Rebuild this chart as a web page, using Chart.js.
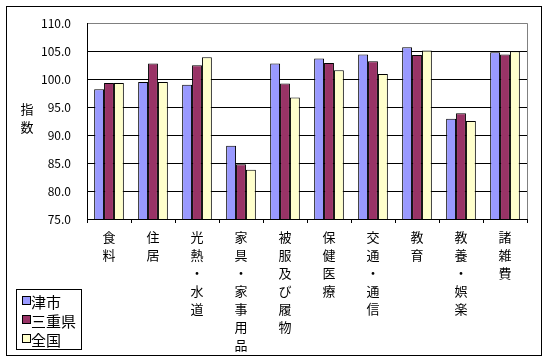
<!DOCTYPE html>
<html>
<head>
<meta charset="utf-8">
<script src="https://cdn.jsdelivr.net/npm/chart.js@4/dist/chart.umd.min.js"></script>
<style>
  html, body { margin: 0; padding: 0; background: #fff; }
  #wrap { width: 548px; height: 363px; position: relative; }
</style>
</head>
<body>
<div id="wrap"><canvas id="chart"></canvas></div>
<script>
// 費目別の指数
const categories = [
  ['食', '料'],
  ['住', '居'],
  ['光', '熱', '・', '水', '道'],
  ['家', '具', '・', '家', '事', '用', '品'],
  ['被', '服', '及', 'び', '履', '物'],
  ['保', '健', '医', '療'],
  ['交', '通', '・', '通', '信'],
  ['教', '育'],
  ['教', '養', '・', '娯', '楽'],
  ['諸', '雑', '費'],
];
const seriesNames = ['津市', '三重県', '全国'];
const tsuValues     = [98.2, 99.5, 99.0, 88.1, 102.8, 103.7, 104.4, 105.7, 92.9, 104.8];
const mieValues     = [99.3, 102.8, 102.5, 84.8, 99.2, 102.9, 103.2, 104.3, 93.9, 104.4];
const zenkokuValues = [99.3, 99.5, 103.9, 83.8, 96.7, 101.6, 100.9, 105.1, 92.5, 105.0];
const yTitle = ['指', '数'];

const FONT = "'Noto Sans CJK JP', 'Noto Sans', sans-serif";
const COLORS = ['#9999ff', '#993366', '#ffffcc'];

// outer frame, right plot edge, y title, legend box
const decorations = {
  id: 'decorations',
  beforeDraw(chart) {
    const c = chart.ctx;
    c.save();
    c.fillStyle = '#fff';
    c.fillRect(0, 0, chart.width, chart.height);
    c.strokeStyle = '#000'; c.lineWidth = 1;
    c.strokeRect(6.5, 6.5, 535, 349);
    c.restore();
  },
  afterDraw(chart) {
    const c = chart.ctx, a = chart.chartArea;
    c.save();
    c.strokeStyle = '#808080'; c.lineWidth = 1;
    c.beginPath(); c.moveTo(Math.round(a.right) + 0.5, a.top); c.lineTo(Math.round(a.right) + 0.5, a.bottom); c.stroke();

    // y title
    c.fillStyle = '#000'; c.font = `13px ${FONT}`;
    c.textAlign = 'center'; c.textBaseline = 'middle';
    yTitle.forEach((ch, i) => c.fillText(ch, 27, 109 + i * 18));

    // legend
    c.fillStyle = '#fff'; c.fillRect(16.5, 289.5, 65, 60);
    c.strokeStyle = '#000'; c.strokeRect(16.5, 289.5, 65, 60);
    c.font = `15px ${FONT}`; c.textAlign = 'left';
    chart.data.datasets.forEach((ds, i) => {
      const y = 301 + i * 19;
      c.fillStyle = ds.backgroundColor;
      c.fillRect(22.5, y - 4.5, 8, 8);
      c.strokeRect(22.5, y - 4.5, 8, 8);
      c.fillStyle = '#000';
      c.fillText(ds.label, 31, y + 1);
    });
    c.restore();
  }
};

new Chart(document.getElementById('chart'), {
  type: 'bar',
  data: {
    labels: categories,
    datasets: [
      { label: seriesNames[0], data: tsuValues, backgroundColor: COLORS[0] },
      { label: seriesNames[1], data: mieValues, backgroundColor: COLORS[1] },
      { label: seriesNames[2], data: zenkokuValues, backgroundColor: COLORS[2] },
    ].map(d => ({ ...d, borderColor: '#000', borderWidth: 1, barPercentage: 1.0, categoryPercentage: 0.675 }))
  },
  options: {
    responsive: true, maintainAspectRatio: false,
    animation: false,
    layout: { padding: { top: 19, right: 21, left: 0, bottom: 0 } },
    plugins: { legend: { display: false }, tooltip: { enabled: false } },
    scales: {
      x: {
        offset: true,
        grid: { offset: true, drawOnChartArea: false, drawTicks: true, tickLength: 4, color: '#000' },
        border: { color: '#000' },
        ticks: { color: '#000', padding: 5, maxRotation: 0, autoSkip: false,
          font: { family: FONT, size: 13, lineHeight: 18 / 13 } },
        afterFit: s => { s.height = 144; },
      },
      y: {
        min: 75, max: 110,
        grid: { drawTicks: false, color: ctx => (ctx.tick && ctx.tick.value === 110 ? '#808080' : '#000') },
        border: { color: '#000' },
        ticks: { stepSize: 5, color: '#000', padding: 16,
          font: { family: FONT, size: 12 },
          callback: v => v.toFixed(1) },
        afterFit: s => { s.width = 87; },
      }
    }
  },
  plugins: [decorations]
});
</script>
</body>
</html>
